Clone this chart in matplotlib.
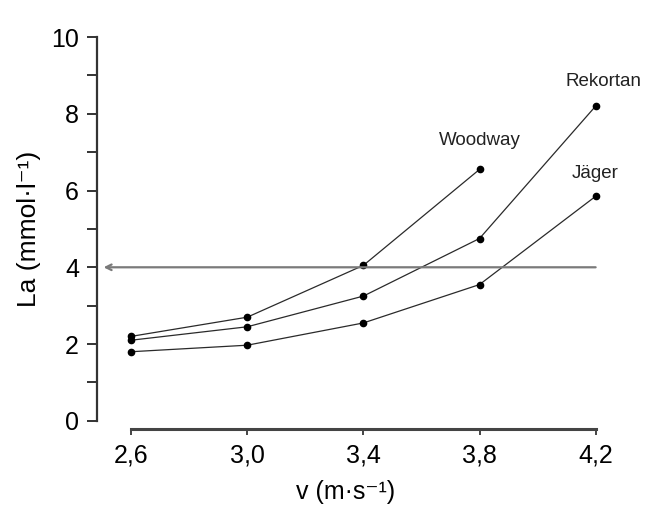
import matplotlib
matplotlib.use("Agg")
import matplotlib.pyplot as plt

plt.rcParams['font.family'] = ['Liberation Sans', 'DejaVu Sans']

# speeds (m/s) and lactate values (mmol/l)
speed = [2.6, 3.0, 3.4, 3.8, 4.2]
woodway = [2.2, 2.7, 4.05, 6.55]
rekortan = [2.1, 2.45, 3.25, 4.75, 8.2]
jaeger = [1.8, 1.97, 2.55, 3.55, 5.85]
threshold = 4
xtick_labels = ['2,6', '3,0', '3,4', '3,8', '4,2']

fig = plt.figure(figsize=(6.61, 5.07), dpi=100)
ax = fig.add_axes([0.147, 0.170, 0.82, 0.757])

# 4 mmol threshold line with arrow to the y axis
ax.annotate('', xy=(2.505, threshold), xytext=(4.2, threshold),
            arrowprops=dict(arrowstyle='->', color='#7a7a7a', lw=1.6,
                            shrinkA=0, shrinkB=0))

for vals in (woodway, rekortan, jaeger):
    ax.plot(speed[:len(vals)], vals, color='#2a2a2a', lw=0.9,
            marker='o', ms=4.5, mfc='black', mec='black')

ax.text(3.8, 7.3, 'Woodway', ha='center', va='center', fontsize=13.5, color='#222')
ax.text(4.097, 8.85, 'Rekortan', ha='left', va='center', fontsize=13.5,
        color='#222', clip_on=False)
ax.text(4.2, 6.45, 'Jäger', ha='center', va='center', fontsize=13.5, color='#222')

ax.set_xlim(2.483, 4.35)
ax.set_ylim(0, 10)

for s in ('top', 'right'):
    ax.spines[s].set_visible(False)
ax.spines['left'].set_bounds(0, 10)
ax.spines['bottom'].set_bounds(2.6, 4.2)
ax.spines['bottom'].set_position(('outward', 6))
ax.spines['left'].set_linewidth(1.6)
ax.spines['bottom'].set_linewidth(2.2)
ax.spines['left'].set_color('#333')
ax.spines['bottom'].set_color('#444')

ax.set_xticks(speed)
ax.set_xticklabels(xtick_labels)
ax.set_yticks([0, 2, 4, 6, 8, 10])
ax.set_yticks([1, 3, 5, 7, 9], minor=True)
ax.tick_params(axis='y', which='both', direction='out', length=7, width=1.4,
               color='#333', labelsize=18, pad=6)
ax.tick_params(axis='x', direction='out', length=4, width=1.4, color='#444',
               labelsize=18, pad=6)

ax.set_xlabel('v (m·s⁻¹)', fontsize=18)
ax.set_ylabel('La (mmol·l⁻¹)', fontsize=19)
ax.xaxis.set_label_coords(0.458, -0.155)
ax.yaxis.set_label_coords(-0.103, 0.5)

fig.savefig('out.png', dpi=100)
